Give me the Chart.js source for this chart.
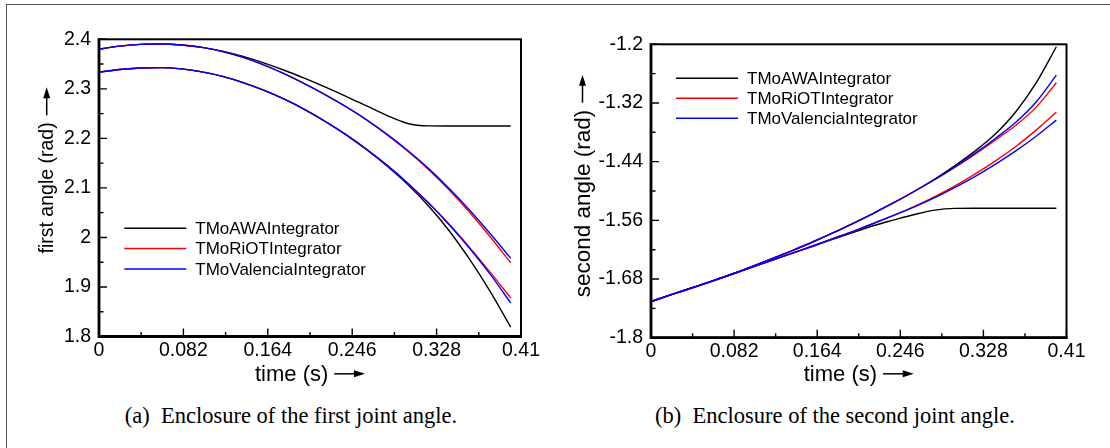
<!DOCTYPE html>
<html>
<head>
<meta charset="utf-8">
<script src="https://cdn.jsdelivr.net/npm/chart.js@4.4.0/dist/chart.umd.min.js"></script>
<style>
  html, body { margin: 0; padding: 0; background: #fff; }
  body { width: 1110px; height: 448px; position: relative; overflow: hidden; }
  .frame { position: absolute; left: 6px; top: 4px; right: -10px; bottom: -10px;
           border-left: 1.5px solid #555; border-top: 1.5px solid #555; }
  .box { position: absolute; top: 0; width: 555px; height: 400px; }
  .caption { position: absolute; top: 405px; line-height: 22.5px; font-size: 22.5px; color: #000;
             font-family: "Liberation Serif", "Times New Roman", serif; white-space: nowrap;
             transform: translateX(-50%); }
</style>
</head>
<body>
<div class="frame"></div>
<div class="box" style="left:0"><canvas id="firstChart"></canvas></div>
<div class="box" style="left:555px"><canvas id="secondChart"></canvas></div>
<div class="caption" style="left:291px">(a)&nbsp; Enclosure of the first joint angle.</div>
<div class="caption" style="left:835px">(b)&nbsp; Enclosure of the second joint angle.</div>

<script>
// sample times (s)
const times = [0, 0.02, 0.04, 0.06, 0.08, 0.10, 0.12, 0.14, 0.16, 0.18, 0.20,
               0.22, 0.24, 0.26, 0.28, 0.30, 0.32, 0.34, 0.36, 0.38, 0.40];

const methods = ['TMoAWAIntegrator', 'TMoRiOTIntegrator', 'TMoValenciaIntegrator'];

// first joint angle (rad), upper / lower bounds of each enclosure
const firstAwaUpper = [2.3800, 2.3862, 2.3897, 2.3905, 2.3886, 2.3838, 2.3760, 2.3655, 2.3525, 2.3375, 2.3210,
                       2.3035, 2.2850, 2.2655, 2.2460, 2.2300, 2.2252, 2.2250, 2.2250, 2.2250, 2.2250];
const firstAwaLower = [2.3334, 2.3390, 2.3420, 2.3428, 2.3402, 2.3342, 2.3252, 2.3127, 2.2972, 2.2790, 2.2580,
                       2.2338, 2.2070, 2.1770, 2.1440, 2.1070, 2.0640, 2.0140, 1.9560, 1.8910, 1.8190];
const firstRiotUpper = [2.3800, 2.3862, 2.3897, 2.3905, 2.3886, 2.3836, 2.3752, 2.3634, 2.3483, 2.3302, 2.3098,
                        2.2878, 2.2638, 2.2370, 2.2070, 2.1739, 2.1374, 2.0964, 2.0509, 2.0013, 1.9488];
const firstRiotLower = [2.3334, 2.3390, 2.3420, 2.3428, 2.3402, 2.3342, 2.3252, 2.3127, 2.2972, 2.2790, 2.2580,
                        2.2340, 2.2075, 2.1780, 2.1455, 2.1095, 2.0700, 2.0270, 1.9800, 1.9300, 1.8780];
const firstValenciaUpper = [2.3800, 2.3862, 2.3897, 2.3905, 2.3886, 2.3836, 2.3752, 2.3635, 2.3485, 2.3305, 2.3100,
                            2.2880, 2.2640, 2.2374, 2.2080, 2.1754, 2.1394, 2.0994, 2.0554, 2.0078, 1.9578];
const firstValenciaLower = [2.3334, 2.3390, 2.3420, 2.3428, 2.3402, 2.3342, 2.3252, 2.3127, 2.2972, 2.2790, 2.2580,
                            2.2340, 2.2075, 2.1780, 2.1455, 2.1095, 2.0698, 2.0262, 1.9782, 1.9258, 1.8678];

// second joint angle (rad)
const secondAwaUpper = [-1.7260, -1.7120, -1.6983, -1.6842, -1.6697, -1.6542, -1.6380, -1.6213, -1.6038, -1.5852, -1.5655,
                        -1.5450, -1.5235, -1.5005, -1.4755, -1.4480, -1.4180, -1.3830, -1.3380, -1.2790, -1.2050];
const secondAwaLower = [-1.7260, -1.7120, -1.6983, -1.6845, -1.6702, -1.6557, -1.6415, -1.6270, -1.6130, -1.5985, -1.5845,
                        -1.5705, -1.5590, -1.5480, -1.5390, -1.5356, -1.5354, -1.5354, -1.5354, -1.5354, -1.5354];
const secondRiotUpper = [-1.7260, -1.7120, -1.6983, -1.6842, -1.6697, -1.6542, -1.6380, -1.6213, -1.6038, -1.5852, -1.5655,
                         -1.5450, -1.5235, -1.5005, -1.4770, -1.4515, -1.4245, -1.3955, -1.3655, -1.3290, -1.2785];
const secondRiotLower = [-1.7260, -1.7120, -1.6983, -1.6845, -1.6702, -1.6557, -1.6413, -1.6266, -1.6120, -1.5970, -1.5820,
                         -1.5660, -1.5495, -1.5315, -1.5115, -1.4895, -1.4650, -1.4385, -1.4090, -1.3755, -1.3390];
const secondValenciaUpper = [-1.7260, -1.7120, -1.6983, -1.6842, -1.6697, -1.6542, -1.6380, -1.6213, -1.6038, -1.5852, -1.5655,
                             -1.5450, -1.5235, -1.5005, -1.4765, -1.4505, -1.4225, -1.3920, -1.3595, -1.3180, -1.2630];
const secondValenciaLower = [-1.7260, -1.7120, -1.6983, -1.6845, -1.6702, -1.6557, -1.6413, -1.6266, -1.6120, -1.5970, -1.5820,
                             -1.5660, -1.5495, -1.5325, -1.5135, -1.4925, -1.4700, -1.4450, -1.4180, -1.3880, -1.3550];

// axes
const timeTicks = [0, 0.082, 0.164, 0.246, 0.328, 0.41];
const timeTickLabels = ['0', '0.082', '0.164', '0.246', '0.328', '0.41'];
const timeMinorTicks = [0.041, 0.123, 0.205, 0.287, 0.369];
const firstTicks = [1.8, 1.9, 2.0, 2.1, 2.2, 2.3, 2.4];
const firstTickLabels = ['1.8', '1.9', '2', '2.1', '2.2', '2.3', '2.4'];
const firstMinorTicks = [1.85, 1.95, 2.05, 2.15, 2.25, 2.35];
const secondTicks = [-1.8, -1.68, -1.56, -1.44, -1.32, -1.2];
const secondTickLabels = ['-1.8', '-1.68', '-1.56', '-1.44', '-1.32', '-1.2'];
const secondMinorTicks = [-1.74, -1.62, -1.5, -1.38, -1.26];

const FONT = '"Liberation Sans", Arial, Helvetica, sans-serif';
Chart.defaults.font.family = FONT;
Chart.defaults.color = '#000';

const colors = ['#000000', '#ff0000', '#0000ff'];

function series(label, values, color, order) {
    return {
        label: label,
        data: times.map((t, i) => ({ x: t, y: values[i] })),
        borderColor: color,
        borderWidth: 1.4,
        pointRadius: 0,
        fill: false,
        cubicInterpolationMode: 'monotone',
        order: order
    };
}

// inward major/minor ticks and the box round the plot
const boxAxes = {
    id: 'boxAxes',
    afterDatasetsDraw(chart, args, opts) {
        const ctx = chart.ctx;
        const a = chart.chartArea;
        const x = chart.scales.x, y = chart.scales.y;
        ctx.save();
        ctx.strokeStyle = '#000';
        ctx.lineWidth = 1.4;
        ctx.beginPath();
        x.ticks.forEach(t => {
            const px = x.getPixelForValue(t.value);
            ctx.moveTo(px, a.bottom); ctx.lineTo(px, a.bottom - 8);
        });
        opts.xMinor.forEach(v => {
            const px = x.getPixelForValue(v);
            ctx.moveTo(px, a.bottom); ctx.lineTo(px, a.bottom - 4.5);
        });
        y.ticks.forEach(t => {
            const py = y.getPixelForValue(t.value);
            ctx.moveTo(a.left, py); ctx.lineTo(a.left + 8, py);
        });
        opts.yMinor.forEach(v => {
            const py = y.getPixelForValue(v);
            ctx.moveTo(a.left, py); ctx.lineTo(a.left + 4.5, py);
        });
        ctx.stroke();
        ctx.lineWidth = 2;
        ctx.strokeRect(a.left, a.top, a.right - a.left, a.bottom - a.top);
        ctx.lineWidth = 2.8;
        ctx.beginPath();
        ctx.moveTo(a.left, a.top - 1); ctx.lineTo(a.left, a.bottom); ctx.lineTo(a.right + 1, a.bottom);
        ctx.stroke();
        ctx.restore();
    }
};

// legend drawn inside the plot
const insideLegend = {
    id: 'insideLegend',
    afterDraw(chart, args, opts) {
        const ctx = chart.ctx;
        const a = chart.chartArea;
        const seen = [];
        chart.data.datasets.forEach(ds => {
            if (seen.find(s => s.label === ds.label)) return;
            seen.push(ds);
        });
        seen.sort((p, q) => methods.indexOf(p.label) - methods.indexOf(q.label));
        ctx.save();
        ctx.font = '17px ' + FONT;
        ctx.textBaseline = 'middle';
        ctx.fillStyle = '#000';
        seen.forEach((ds, i) => {
            const x0 = a.left + opts.dx;
            const yy = a.top + opts.dy + i * opts.row;
            ctx.strokeStyle = ds.borderColor;
            ctx.lineWidth = 1.5;
            ctx.beginPath();
            ctx.moveTo(x0, yy); ctx.lineTo(x0 + 62, yy);
            ctx.stroke();
            ctx.fillText(ds.label, x0 + 71, yy + 1);
        });
        ctx.restore();
    }
};

// arrows after the axis titles (titles may carry trailing spaces to leave room)
const titleArrows = {
    id: 'titleArrows',
    afterDraw(chart, args, opts) {
        const ctx = chart.ctx;
        const a = chart.chartArea;
        ctx.save();
        ctx.strokeStyle = '#000';
        ctx.fillStyle = '#000';
        ctx.lineWidth = 1.5;
        // x title arrow
        ctx.font = opts.xSize + 'px ' + FONT;
        const full = ctx.measureText(opts.xText).width;
        const tw = ctx.measureText(opts.xText.trimEnd()).width;
        const start = (a.left + a.right) / 2 - full / 2;
        const ax0 = start + tw + 6, ax1 = start + full;
        const ay = chart.height - opts.xPad - opts.xSize * 0.6 - 1;
        ctx.beginPath(); ctx.moveTo(ax0, ay); ctx.lineTo(ax1 - 8, ay); ctx.stroke();
        ctx.beginPath(); ctx.moveTo(ax1, ay); ctx.lineTo(ax1 - 11, ay - 3.5); ctx.lineTo(ax1 - 11, ay + 3.5); ctx.closePath(); ctx.fill();
        // y title arrow (text runs bottom to top)
        ctx.font = opts.ySize + 'px ' + FONT;
        const yFull = ctx.measureText(opts.yText).width;
        const yw = ctx.measureText(opts.yText.trimEnd()).width;
        const ty = (a.top + a.bottom) / 2 + yFull / 2 - yw;
        const tx = chart.scales.y.left + opts.yPad + opts.ySize * 0.6 - 1;
        const by0 = ty - 7, by1 = ty - 35;
        ctx.beginPath(); ctx.moveTo(tx, by0); ctx.lineTo(tx, by1 + 8); ctx.stroke();
        ctx.beginPath(); ctx.moveTo(tx, by1); ctx.lineTo(tx - 3.5, by1 + 11); ctx.lineTo(tx + 3.5, by1 + 11); ctx.closePath(); ctx.fill();
        ctx.restore();
    }
};

function makeChart(id, cfg) {
    const xText = 'time (s)      ';
    new Chart(document.getElementById(id), {
        type: 'line',
        data: {
            datasets: [
                series(methods[0], cfg.awaUpper, colors[0], 3),
                series(methods[0], cfg.awaLower, colors[0], 3),
                series(methods[1], cfg.riotUpper, colors[1], 2),
                series(methods[1], cfg.riotLower, colors[1], 2),
                series(methods[2], cfg.valUpper, colors[2], 1),
                series(methods[2], cfg.valLower, colors[2], 1)
            ]
        },
        options: {
            responsive: true,
            maintainAspectRatio: false,
            animation: false,
            events: [],
            layout: { padding: { left: 0, top: cfg.top, right: cfg.right, bottom: 0 } },
            scales: {
                x: {
                    type: 'linear',
                    min: 0,
                    max: 0.41,
                    afterBuildTicks: s => { s.ticks = timeTicks.map(v => ({ value: v })); },
                    afterFit: s => { s.height = cfg.xHeight; },
                    grid: { display: false, drawTicks: false },
                    border: { display: false },
                    ticks: {
                        autoSkip: false, maxRotation: 0, padding: 2,
                        font: { size: 19.5 },
                        callback: (v, i) => timeTickLabels[i]
                    },
                    title: { display: true, text: xText, font: { size: 22 }, padding: { top: 0, bottom: 12 } }
                },
                y: {
                    min: cfg.min,
                    max: cfg.max,
                    afterBuildTicks: s => { s.ticks = cfg.ticks.map(v => ({ value: v })); },
                    afterFit: s => { s.width = cfg.yWidth; },
                    grid: { display: false, drawTicks: false },
                    border: { display: false },
                    ticks: {
                        autoSkip: false, padding: 8,
                        font: { size: 19.5 },
                        callback: (v, i) => cfg.tickLabels[i]
                    },
                    title: { display: true, text: cfg.yTitle, font: { size: cfg.ySize }, padding: { top: cfg.yPad, bottom: 0 } }
                }
            },
            plugins: {
                legend: { display: false },
                tooltip: { enabled: false },
                boxAxes: { xMinor: timeMinorTicks, yMinor: cfg.minor },
                insideLegend: { dx: cfg.legDx, dy: cfg.legDy, row: cfg.legRow },
                titleArrows: { xText: xText, xSize: 22, xPad: 12, yText: cfg.yTitle, ySize: cfg.ySize, yPad: cfg.yPad }
            }
        },
        plugins: [boxAxes, insideLegend, titleArrows]
    });
}

makeChart('firstChart', {
    awaUpper: firstAwaUpper, awaLower: firstAwaLower,
    riotUpper: firstRiotUpper, riotLower: firstRiotLower,
    valUpper: firstValenciaUpper, valLower: firstValenciaLower,
    min: 1.8, max: 2.4, ticks: firstTicks, tickLabels: firstTickLabels, minor: firstMinorTicks,
    yTitle: 'first angle (rad)', ySize: 19.5, yPad: 36,
    top: 39.3, right: 34, xHeight: 63.5, yWidth: 99,
    legDx: 25.3, legDy: 189, legRow: 20.3
});

makeChart('secondChart', {
    awaUpper: secondAwaUpper, awaLower: secondAwaLower,
    riotUpper: secondRiotUpper, riotLower: secondRiotLower,
    valUpper: secondValenciaUpper, valLower: secondValenciaLower,
    min: -1.8, max: -1.2, ticks: secondTicks, tickLabels: secondTickLabels, minor: secondMinorTicks,
    yTitle: 'second angle (rad)    ', ySize: 22.5, yPad: 15,
    top: 44.3, right: 43.5, xHeight: 62.3, yWidth: 96,
    legDx: 25, legDy: 34, legRow: 20
});
</script>
</body>
</html>
